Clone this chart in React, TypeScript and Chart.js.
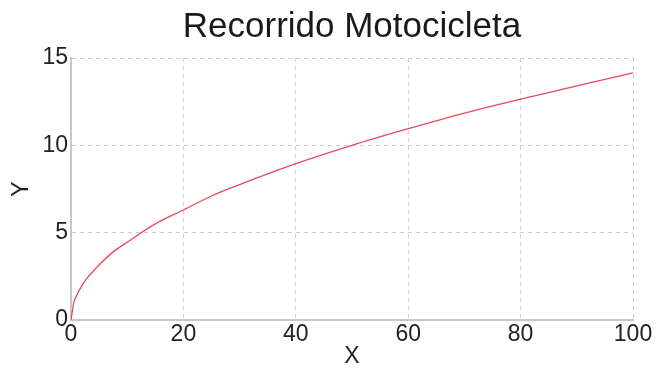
import React, { useEffect, useRef } from "react";
import { Chart, registerables } from "chart.js";

Chart.register(...registerables);

const titleText = "Recorrido Motocicleta";
const xLabel = "X";
const yLabel = "Y";
const xValues = [0, 0.5, 1, 2, 3, 5, 7.5, 10, 15, 20, 25, 30, 40, 50, 60, 70, 80, 90, 100];
const yValues = [0, 1.0, 1.4, 2.0, 2.45, 3.15, 3.9, 4.45, 5.5, 6.3, 7.1, 7.75, 8.95, 10.0, 10.95, 11.85, 12.65, 13.4, 14.15];
const xTicks = [0, 20, 40, 60, 80, 100];
const yTicks = [0, 5, 10, 15];

const FONT = "'Liberation Sans', Arial, Helvetica, sans-serif";

export default function App() {
  const ref = useRef<HTMLCanvasElement>(null);
  useEffect(() => {
    if (!ref.current) return;
    const points = xValues.map((x, i) => ({ x, y: yValues[i] }));
    const gridCommon = {
      color: "#cfcfcf",
      lineWidth: 1,
      drawTicks: false,
    };
    const chart = new Chart(ref.current, {
      type: "line",
      data: {
        datasets: [
          {
            data: points,
            borderColor: "rgb(230,75,90)",
            borderWidth: 1.3,
            pointRadius: 0,
            fill: false,
            cubicInterpolationMode: "monotone",
          },
        ],
      },
      options: {
        animation: false,
        responsive: false,
        maintainAspectRatio: false,
        layout: { padding: { left: 0, right: 33, top: 0, bottom: 0 } },
        plugins: {
          legend: { display: false },
          tooltip: { enabled: false },
          title: {
            display: true,
            text: titleText,
            fullSize: false,
            color: "#1a1a1a",
            font: { family: FONT, size: 35, weight: "normal" },
            padding: { top: 6, bottom: 10 },
          },
        },
        scales: {
          x: {
            type: "linear",
            min: 0,
            max: 100,
            afterBuildTicks: (s: any) => {
              s.ticks = xTicks.map((v) => ({ value: v }));
            },
            afterFit: (s: any) => {
              s.height = 50;
            },
            grid: { ...gridCommon },
            border: { display: true, color: "#c8c8c8", width: 2, dash: [4, 4] },
            ticks: {
              color: "#222",
              padding: 1,
              font: { family: FONT, size: 23 },
              maxRotation: 0,
            },
            title: {
              display: true,
              text: xLabel,
              color: "#222",
              font: { family: FONT, size: 23 },
              padding: { top: 0, bottom: 0 },
            },
          },
          y: {
            type: "linear",
            min: 0,
            max: 15,
            afterBuildTicks: (s: any) => {
              s.ticks = yTicks.map((v) => ({ value: v }));
            },
            afterFit: (s: any) => {
              s.width = 71;
            },
            grid: { ...gridCommon },
            border: { display: true, color: "#c8c8c8", width: 2, dash: [4, 4] },
            ticks: {
              color: "#222",
              padding: 3,
              font: { family: FONT, size: 23 },
            },
            title: {
              display: true,
              text: yLabel,
              color: "#222",
              font: { family: FONT, size: 23 },
              padding: { top: 8, bottom: 0 },
            },
          },
        },
      },
    } as any);
    return () => chart.destroy();
  }, []);
  return (
    <div style={{ position: "absolute", left: 0, top: 0, width: 666, height: 370, background: "#fff" }}>
      <canvas ref={ref} width={666} height={370} style={{ width: 666, height: 370 }} />
    </div>
  );
}
